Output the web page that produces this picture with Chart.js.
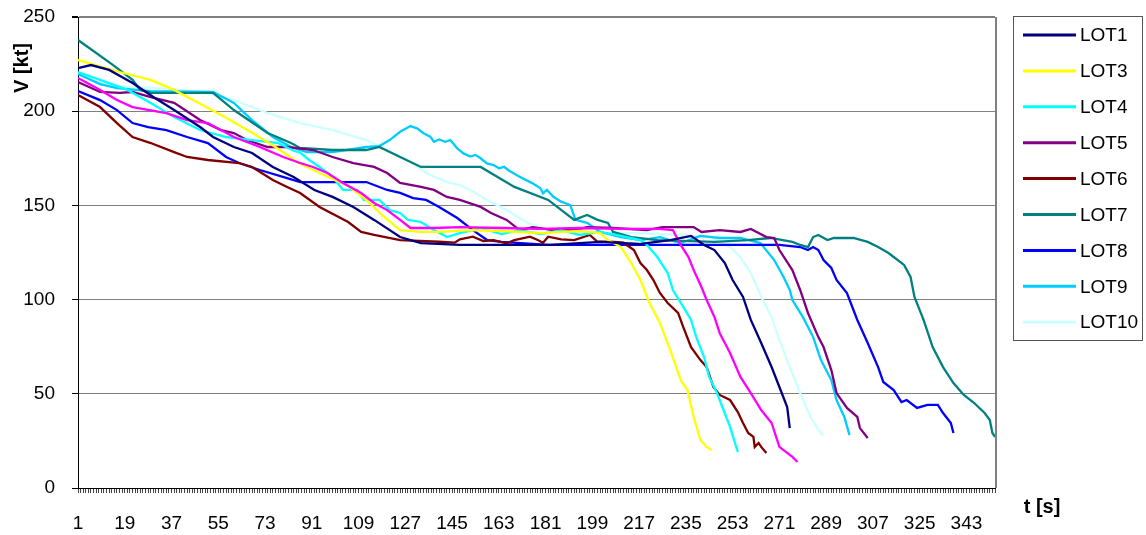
<!DOCTYPE html>
<html>
<head>
<meta charset="utf-8">
<script src="https://cdn.jsdelivr.net/npm/chart.js@4/dist/chart.umd.min.js"></script>
<style>
  html, body { margin: 0; padding: 0; background: #ffffff; }
  canvas { display: block; }
</style>
</head>
<body>
<canvas id="c" width="1146" height="535"></canvas>
<script>
// ---- Data (t in seconds, V in kt) ----
const lot1_t = [1,6,13,22,30,38,48,53,61,68,76,84,92,99,107,115,125,133,148,183,202,217,229,237,242,246,250,253,257,260,264,268,271,274,275];
const lot1_v = [222.9,224.5,221.9,215,207.5,200.6,191.6,186.3,181,177.8,170.4,165.1,158.2,154.5,149.2,142.3,133.2,130,129,129,130.6,129.5,131.6,133.8,129,126.3,119.4,110.4,101.4,89.2,77,64.2,53.6,43,31.8];

const lot2_t = [1,9.5,16,22,35,43,51,61,71,80,86.5,91.5,97,103,110,115,120,125,129,138,148,164,179,194,210,225,230,233,236,238,241,243,246,248,252,256,260,264,268,271,276,278];
const lot2_v = [217.6,211.3,205.9,202.2,199,195.3,193.7,186.3,181,175.7,172.5,170.4,167.2,161.9,156.6,151.3,147.5,142.3,138,138,138.5,138,137.5,138,137.5,137.5,136.9,129,122.6,115.7,106.7,99.8,90.8,82.3,71.7,59,50.4,41.4,34.5,21.8,16.5,13.8];

const lot3_t = [1,9,17,29,38,48,58,68,77,86,94,105,112,118,125,133,140,152,164,179,194,202,205,210,214,217.5,221,225,229,233,235.6,238,240.6,243,245];
const lot3_v = [227.2,223.9,220.8,216.6,211.3,204,196.5,188.5,181,172.5,167.2,160.3,152.9,144.9,136.9,135.9,135.9,136.9,136.4,135.3,136.4,135.3,131.6,127.9,119.4,110.4,98.2,87.6,73.2,57.3,52,37.7,25.5,21.8,20.2];

const lot4_t = [1,9.5,20,29,38,48,58,68,78,84,86.5,90,94,99,103,108.5,111,117,121,125,128,133,138,143,148,156,164,171,179,187,194,202,210,217.5,220,224,228,230,234,237,239,242,244,247,249.5,252,255];
const lot4_v = [220.8,216.6,211.3,204.4,196.9,190,186.3,184.7,183.1,179,178,174.1,170.4,165.1,158.2,158.2,152.9,152.9,147.5,146,142.3,141.2,136.9,133.2,135.3,138,134.8,136.9,134.8,136.9,134.3,135.9,133.8,131.6,129,122.6,114.1,105.1,96.1,89.2,80.1,69.5,58.9,50.4,41.4,32.4,19.1];

const lot5_t = [1,9.5,17,22,29,38,48,56,61,66,74,81.5,91.5,99,107,115,120,125,133,138,143,148,156,160,166,171,176,184,192,197,207,220,226,238,241,248,256,260,263,266,269,271,276,279,282,286,288,291,293,297,301,302,305];
const lot5_v = [215.5,210.2,209.7,210.2,207.5,204.4,195.3,190,188.4,184.7,181,181,179.4,175.7,172.5,170.4,167.2,161.9,159.8,158.2,154.5,152.9,149.2,146,142.3,136.9,138.5,136.9,136.9,138.5,138,136.9,138.5,138.5,135.9,136.9,135.9,137.5,135.3,133.2,132.7,126.3,115.7,105.1,92.9,80.1,74.8,62.6,50.4,42.5,37.7,31.8,26.5];

const lot6_t = [1,9.5,16,22,29,38,43,51,63,68,76,81.5,86.5,94,105,110,115,125,140,146,148,153,157,161,166,169,175,178,180,182,187,192,198,201,206,211,215,217.5,220,222.5,225,228,232,234,237,240.6,243,245.6,248,252,255,257,259,261,261.5,263,264,266];
const lot6_v = [208.6,202.2,193.7,186.3,183.1,178.3,175.7,174.1,172.5,170.4,163.5,159.8,156.6,149.2,141.2,135.9,134.3,131.6,130.7,130.2,132,133.4,131.1,131.6,129.9,131.6,133.4,131.6,130.2,133.4,132,131.6,134.3,130.7,130.7,130.2,126.3,119.4,115.7,110.4,103.5,98.2,92.9,85.4,74.8,67.9,64.2,53.6,49.4,46.7,40.3,34.5,29.2,27.1,21.8,23.9,21.8,18.6];

const lot7_t = [1,14,22,25,29,40,53,61,74,83,86.5,99,112,117,125,133,140,156,169,182,192,197,201,205,207,214,224,246,259,267.6,276,279,282,284,286,289.5,292,299.5,305,309,313,315,319,321.5,323,326.5,330,334,338,342,346,350,352,353,354];
const lot7_v = [237.8,225,216.6,211.3,209.7,209.7,209.7,200.6,188.4,183.1,180.5,179.4,179.4,181,175.7,170.4,170.4,170.4,159.8,152.9,142.3,144.9,142.3,140.7,135.9,133.2,131.6,130.6,131.6,132.7,130.6,129,127.9,133.2,134.3,131.6,132.7,132.7,130.6,127.9,124.7,122.6,118.4,112,101.4,89.2,74.8,64.2,55.7,49.4,45.1,39.8,36.1,29.2,27.1];

const lot8_t = [1,9.5,16,22,28,35,43,51,58,63,71,81.5,86.5,99,112,120,125,130,135,140,147,153,158.5,164,182,207,246,271,279,282,284,286,288,291,293,297,301,305,309,311,315,318,320,324,328,332,334,337,338];
const lot8_v = [210.7,205.9,200.6,193.7,191.6,190,186.3,183.1,175.7,172.5,168.8,164.5,162.4,162.4,162.4,158.2,156.6,153.9,152.9,149.2,143.3,136.9,131.6,130.6,129,129,129,129,127.9,126.3,127.9,126.3,121,116.8,110.4,103.5,89.2,77,64.2,56.3,52,45.6,46.7,42.5,44.1,44.1,39.8,34.5,29.2];

const lot9_t = [1,9.5,16,29,53,61,68,76,83,89,99,112,117,121,125,129,131.5,134,136.6,138,140,142.4,144.3,147,149.4,152,154,156,158.4,161,163,165,167,171,176,179,180,181.5,184,187,190.5,192.5,197,202,210,217.5,225,233,240.6,248,256,263.7,269,272.6,275,276,280,284,287,291,293,296,298];
const lot9_v = [219.7,214.4,212.3,210.7,210.2,204.4,195.3,186.3,181,178.3,178.3,181,181.5,184.7,189.1,192.1,190.9,188.3,186.5,183.8,185,183.8,184.7,180.3,177.6,175.9,176.8,175,172.3,171.4,169.7,170.5,168.4,165.2,161.7,159.1,156.4,158.2,154.6,152,150.2,142.3,140.7,135.9,133.2,131.6,133.2,130,133.8,132.7,132.7,130,121,112,105.1,99.8,90.8,80.1,67.9,57.3,46.7,37.7,28.1];

const lot10_t = [1,9.5,20,33,48,61,74,86.5,99,112,120,128,135,143,148,152,158.5,166,174,182,189,202,217.5,233,244,252,256,260,264,268,271,275,279,283,286,288];
const lot10_v = [220.3,215,212.8,212.3,210.2,205.9,199,193.7,190,184.7,179.4,174.1,167.2,162.4,160.8,158.2,152.9,147.5,140.7,136.9,136.9,135.3,135.3,134.3,133.2,127.9,122.6,114.1,101.4,90.8,78.6,64.2,50.4,37.7,30.8,28.1];

const seriesNames  = ['LOT1','LOT2','LOT3','LOT4','LOT5','LOT6','LOT7','LOT8','LOT9','LOT10'];
const seriesColors = ['#000080','#FF00FF','#FFFF00','#00FFFF','#800080','#800000','#008080','#0000FF','#00CCFF','#CCFFFF'];
const seriesInLegend = [true,false,true,true,true,true,true,true,true,true];
const seriesT = [lot1_t,lot2_t,lot3_t,lot4_t,lot5_t,lot6_t,lot7_t,lot8_t,lot9_t,lot10_t];
const seriesV = [lot1_v,lot2_v,lot3_v,lot4_v,lot5_v,lot6_v,lot7_v,lot8_v,lot9_v,lot10_v];

const tMin = 1, tMax = 354, tLabelEvery = 18;
const vMin = 0, vMax = 250, vStep = 50;

const FONT = '"Liberation Sans", Arial, Helvetica, sans-serif';
Chart.defaults.font.family = FONT;

const datasets = seriesNames.map((name, i) => ({
  label: name,
  data: seriesT[i].map((t, k) => ({ x: t, y: seriesV[i][k] })),
  borderColor: seriesColors[i],
  backgroundColor: seriesColors[i],
  borderWidth: 2.3,
  pointRadius: 0,
  pointHoverRadius: 0,
  fill: false,
  tension: 0,
  inLegend: seriesInLegend[i]
}));

const decor = {
  id: 'decor',
  afterDraw(chart) {
    const { ctx, chartArea: a } = chart;
    ctx.save();
    ctx.strokeStyle = '#808080';
    ctx.lineWidth = 2;
    ctx.beginPath();
    ctx.moveTo(a.right + 1, a.top);
    ctx.lineTo(a.right + 1, a.bottom);
    ctx.stroke();

    ctx.fillStyle = '#000';
    ctx.font = 'bold 20px ' + FONT;
    ctx.textAlign = 'center';
    ctx.textBaseline = 'middle';
    ctx.save();
    ctx.translate(22, 68);
    ctx.rotate(-Math.PI / 2);
    ctx.fillText('V [kt]', 0, 0);
    ctx.restore();
    ctx.fillText('t [s]', 1042, 507);

    const lx = 1013, ly = 16, lw = 129, lh = 324;
    ctx.strokeStyle = '#555';
    ctx.lineWidth = 1;
    ctx.strokeRect(lx + 0.5, ly + 0.5, lw, lh);
    ctx.font = '19px ' + FONT;
    ctx.textAlign = 'left';
    let row = 0;
    chart.data.datasets.forEach(ds => {
      if (!ds.inLegend) return;
      const y = 35 + row * 35.9;
      ctx.strokeStyle = ds.borderColor;
      ctx.lineWidth = 3;
      ctx.beginPath();
      ctx.moveTo(1023, y);
      ctx.lineTo(1076, y);
      ctx.stroke();
      ctx.fillStyle = '#000';
      ctx.fillText(ds.label, 1080, y + 1);
      row++;
    });
    ctx.restore();
  }
};

new Chart(document.getElementById('c'), {
  type: 'line',
  data: { datasets },
  options: {
    responsive: false,
    animation: false,
    devicePixelRatio: 1,
    layout: { padding: { left: 0, top: 17, right: 151, bottom: 0 } },
    plugins: { legend: { display: false }, tooltip: { enabled: false } },
    scales: {
      x: {
        type: 'linear',
        min: tMin,
        max: tMax,
        afterFit(s) { s.height = 47; s.paddingLeft = 0; s.paddingRight = 0; },
        border: { color: '#000', width: 1 },
        grid: { drawOnChartArea: false, drawTicks: true, tickLength: 5, color: '#444', tickColor: '#444', lineWidth: 1 },
        ticks: {
          stepSize: 1,
          autoSkip: false,
          maxRotation: 0,
          minRotation: 0,
          padding: 19,
          color: '#000',
          font: { size: 19 },
          callback: v => ((v - tMin) % tLabelEvery === 0 ? String(v) : '')
        }
      },
      y: {
        min: vMin,
        max: vMax,
        afterFit(s) { s.width = 78; s.paddingTop = 0; s.paddingBottom = 0; },
        border: { color: '#000', width: 1 },
        grid: {
          color: '#808080',
          tickColor: '#000',
          tickLength: 6,
          lineWidth: c => (c.tick && c.tick.value === vMax ? 2 : 1)
        },
        ticks: { stepSize: vStep, padding: 17, color: '#000', font: { size: 19 } }
      }
    }
  },
  plugins: [decor]
});
</script>
</body>
</html>
